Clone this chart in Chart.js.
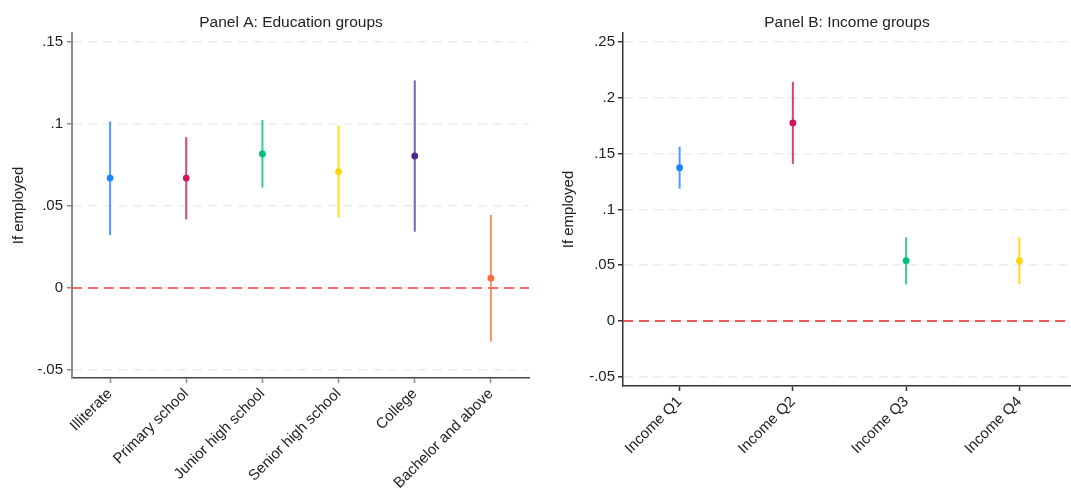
<!DOCTYPE html>
<html>
<head>
<meta charset="utf-8">
<script src="https://cdn.jsdelivr.net/npm/chart.js@4.4.1/dist/chart.umd.min.js"></script>
<style>
    html, body { margin: 0; padding: 0; background: #fff; }
    #wrap { position: relative; width: 1071px; height: 492px; overflow: hidden; }
    canvas { position: absolute; top: 0; }
    #panelA { left: 0; }
    #panelB { left: 540px; }
</style>
</head>
<body>
<div id="wrap">
    <canvas id="panelA" width="540" height="492"></canvas>
    <canvas id="panelB" width="540" height="492"></canvas>
</div>
<script>
// Panel A: education groups
const eduLabels = ['Illiterate', 'Primary school', 'Junior high school', 'Senior high school', 'College', 'Bachelor and above'];
const eduEstimate = [0.067, 0.067, 0.0817, 0.071, 0.0805, 0.006];
const eduLower = [0.0323, 0.0419, 0.0612, 0.0429, 0.0343, -0.0327];
const eduUpper = [0.1015, 0.092, 0.1024, 0.0992, 0.1266, 0.0445];
const eduTicks = [-0.05, 0, 0.05, 0.1, 0.15];
const eduTickLabels = ['-.05', '0', '.05', '.1', '.15'];

// Panel B: income groups
const incLabels = ['Income Q1', 'Income Q2', 'Income Q3', 'Income Q4'];
const incEstimate = [0.1374, 0.1774, 0.054, 0.054];
const incLower = [0.1186, 0.1407, 0.0329, 0.0331];
const incUpper = [0.1562, 0.2142, 0.075, 0.075];
const incTicks = [-0.05, 0, 0.05, 0.1, 0.15, 0.2, 0.25];
const incTickLabels = ['-.05', '0', '.05', '.1', '.15', '.2', '.25'];

// Stata-like palette (points solid, bars a bit lighter)
const pointColors = ['#1a85ff', '#d41159', '#00bf7f', '#ffd400', '#4b2a94', '#ff6a3a'];
const barColors = ['rgba(26,133,255,0.8)', 'rgba(212,17,89,0.8)', 'rgba(0,191,127,0.8)',
                   'rgba(255,212,0,0.85)', 'rgba(75,42,148,0.75)', 'rgba(255,106,58,0.75)'];

const FONT = '"Liberation Sans", Arial, sans-serif';

// draws the panel heading at a fixed x centre
const panelTitle = {
    id: 'panelTitle',
    afterDraw(chart, args, opts) {
        const ctx = chart.ctx;
        ctx.save();
        ctx.font = '15.5px ' + FONT;
        ctx.fillStyle = '#222';
        ctx.textAlign = 'center';
        ctx.textBaseline = 'alphabetic';
        ctx.fillText(opts.text, opts.x, opts.y);
        ctx.restore();
    }
};

function makePanel(canvasId, cfg) {
    const n = cfg.labels.length;
    const datasets = [];

    // zero reference line
    datasets.push({
        type: 'line',
        data: [{ x: cfg.xMin, y: 0 }, { x: cfg.xMax, y: 0 }],
        borderColor: cfg.zeroColor,
        borderWidth: 1.6,
        borderDash: [10, 6],
        pointRadius: 0,
        order: 3
    });

    // confidence interval bars
    for (let i = 0; i < n; i++) {
        datasets.push({
            type: 'line',
            data: [{ x: i + 1, y: cfg.lower[i] }, { x: i + 1, y: cfg.upper[i] }],
            borderColor: barColors[i],
            borderWidth: 2,
            pointRadius: 0,
            order: 2
        });
    }

    // point estimates
    datasets.push({
        type: 'scatter',
        data: cfg.estimate.map(function(v, i) { return { x: i + 1, y: v }; }),
        pointBackgroundColor: pointColors.slice(0, n),
        pointBorderWidth: 0,
        pointRadius: 3.4,
        order: 1
    });

    return new Chart(document.getElementById(canvasId), {
        type: 'scatter',
        data: { datasets: datasets },
        plugins: [panelTitle],
        options: {
            responsive: false,
            animation: false,
            devicePixelRatio: 1,
            layout: { padding: { top: 33, right: cfg.padRight, bottom: 0, left: 0 } },
            plugins: {
                legend: { display: false },
                tooltip: { enabled: false },
                panelTitle: { text: cfg.title, x: cfg.titleX, y: 27 }
            },
            scales: {
                x: {
                    type: 'linear',
                    min: cfg.xMin,
                    max: cfg.xMax,
                    afterBuildTicks: function(s) {
                        s.ticks = cfg.labels.map(function(_, i) { return { value: i + 1 }; });
                    },
                    afterFit: function(s) {
                        s.height = cfg.xHeight;
                        s.paddingLeft = 0;
                        s.paddingRight = 0;
                    },
                    ticks: {
                        minRotation: 45,
                        maxRotation: 45,
                        autoSkip: false,
                        padding: 2,
                        color: '#222',
                        font: { family: FONT, size: 15 },
                        callback: function(v) { return cfg.labels[v - 1]; }
                    },
                    grid: { drawOnChartArea: false, tickLength: 5, tickColor: cfg.xTickColor, tickWidth: 1.5 },
                    border: { color: cfg.xAxisColor, width: 1.5 }
                },
                y: {
                    min: cfg.yMin,
                    max: cfg.yMax,
                    afterBuildTicks: function(s) {
                        s.ticks = cfg.ticks.map(function(v) { return { value: v }; });
                    },
                    afterFit: function(s) {
                        s.width = cfg.yWidth;
                        s.paddingTop = 0;
                        s.paddingBottom = 0;
                    },
                    ticks: {
                        padding: cfg.yTickPad,
                        color: '#222',
                        font: { family: FONT, size: 15 },
                        callback: function(v) {
                            const k = cfg.ticks.indexOf(v);
                            return k >= 0 ? cfg.tickLabels[k] : '';
                        }
                    },
                    title: {
                        display: true,
                        text: 'If employed',
                        color: '#222',
                        font: { family: FONT, size: 15 },
                        padding: { top: cfg.yTitlePad, bottom: 0 }
                    },
                    grid: { color: '#ececec', lineWidth: 1.5, tickLength: 5, tickColor: cfg.yTickColor, tickWidth: 1.5 },
                    border: { color: cfg.yAxisColor, width: cfg.yAxisWidth, dash: [9, 6] }
                }
            }
        }
    });
}

makePanel('panelA', {
    title: 'Panel A: Education groups',
    titleX: 291,
    labels: eduLabels,
    estimate: eduEstimate,
    lower: eduLower,
    upper: eduUpper,
    ticks: eduTicks,
    tickLabels: eduTickLabels,
    xMin: 0.5, xMax: 6.5,
    yMin: -0.0549, yMax: 0.1555,
    yWidth: 72, xHeight: 114, padRight: 11,
    yTickPad: 4, yTitlePad: 9.5,
    zeroColor: 'rgba(255,48,48,0.9)',
    yAxisColor: '#8c8c8c', yAxisWidth: 2, yTickColor: '#8c8c8c',
    xAxisColor: '#444', xTickColor: '#8c8c8c'
});

// the right panel runs past the window edge, as in the cropped original
makePanel('panelB', {
    title: 'Panel B: Income groups',
    titleX: 307,
    labels: incLabels,
    estimate: incEstimate,
    lower: incLower,
    upper: incUpper,
    ticks: incTicks,
    tickLabels: incTickLabels,
    xMin: 0.5, xMax: 4.5,
    yMin: -0.0582, yMax: 0.258,
    yWidth: 83, xHeight: 106, padRight: 0,
    yTickPad: 3, yTitlePad: 20,
    zeroColor: '#e8262b',
    yAxisColor: '#333', yAxisWidth: 1.5, yTickColor: '#333',
    xAxisColor: '#333', xTickColor: '#333'
});
</script>
</body>
</html>
